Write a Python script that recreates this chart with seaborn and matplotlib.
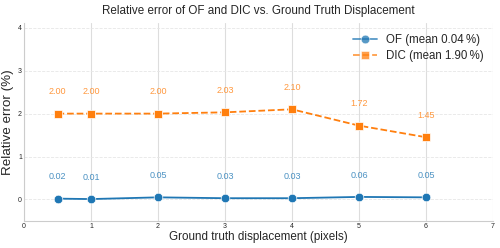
import numpy as np
import pandas as pd
import matplotlib
matplotlib.use("Agg")
import matplotlib.pyplot as plt
import seaborn as sns

# ground truth displacement (pixels)
disp = [0.5, 1, 2, 3, 4, 5, 6]
# relative error (%)
of_err = [0.02, 0.01, 0.05, 0.03, 0.03, 0.06, 0.05]
dic_err = [2.00, 2.00, 2.00, 2.03, 2.10, 1.72, 1.45]

sns.set_theme(style="whitegrid")
plt.rcParams['font.family'] = ['Liberation Sans', 'DejaVu Sans']

df = pd.DataFrame({'disp': disp, 'OF': of_err, 'DIC': dic_err})

fig = plt.figure(figsize=(5, 2.48), dpi=100)
ax = fig.add_axes([0.048, 0.109, 0.938, 0.80])

sns.lineplot(data=df, x='disp', y='OF', ax=ax, marker='o', markersize=6.2,
             color='#1f77b4', markeredgecolor='white', markeredgewidth=0.5,
             linewidth=1.3, label='OF (mean %.2f\u2009%%)' % np.mean(of_err))
sns.lineplot(data=df, x='disp', y='DIC', ax=ax, marker='s', markersize=6.2,
             color='#ff7f0e', markeredgecolor='white', markeredgewidth=0.5,
             linewidth=1.3, linestyle='--', label='DIC (mean %.2f\u2009%%)' % np.mean(dic_err))

for x, y in zip(disp, of_err):
    ax.text(x, y + 0.4, '%.2f' % y, ha='center', va='bottom', fontsize=6.5,
            color='#1f77b4', alpha=0.8)
for x, y in zip(disp, dic_err):
    ax.text(x, y + 0.4, '%.2f' % y, ha='center', va='bottom', fontsize=6.5,
            color='#ff7f0e', alpha=0.8)

ax.set_xlim(0, 7)
ax.set_ylim(-0.5, 4.12)
ax.set_xticks(range(8))
ax.set_yticks(range(5))
ax.tick_params(labelsize=5, pad=1.5, length=0)
ax.grid(axis='y', linestyle='--', color='#e6e6e6', linewidth=0.6)
ax.grid(axis='x', linestyle='-', color='#dddddd', linewidth=0.8)
for s in ['top', 'right']:
    ax.spines[s].set_visible(False)
for s in ['left', 'bottom']:
    ax.spines[s].set_color('#cccccc')
    ax.spines[s].set_linewidth(0.8)

ax.set_title('Relative error of OF and DIC vs. Ground Truth Displacement', fontsize=8.4, pad=6)
ax.set_xlabel('Ground truth displacement (pixels)', fontsize=8.4, labelpad=1)
ax.set_ylabel('Relative error (%)', fontsize=9.6, labelpad=2.5)
leg = ax.legend(loc='upper right', fontsize=8.3, frameon=False,
                bbox_to_anchor=(1.003, 0.995), handlelength=2.1, labelspacing=0.35)
for h in leg.legend_handles:
    h.set_alpha(0.75)

fig.savefig('out.png', dpi=100)
